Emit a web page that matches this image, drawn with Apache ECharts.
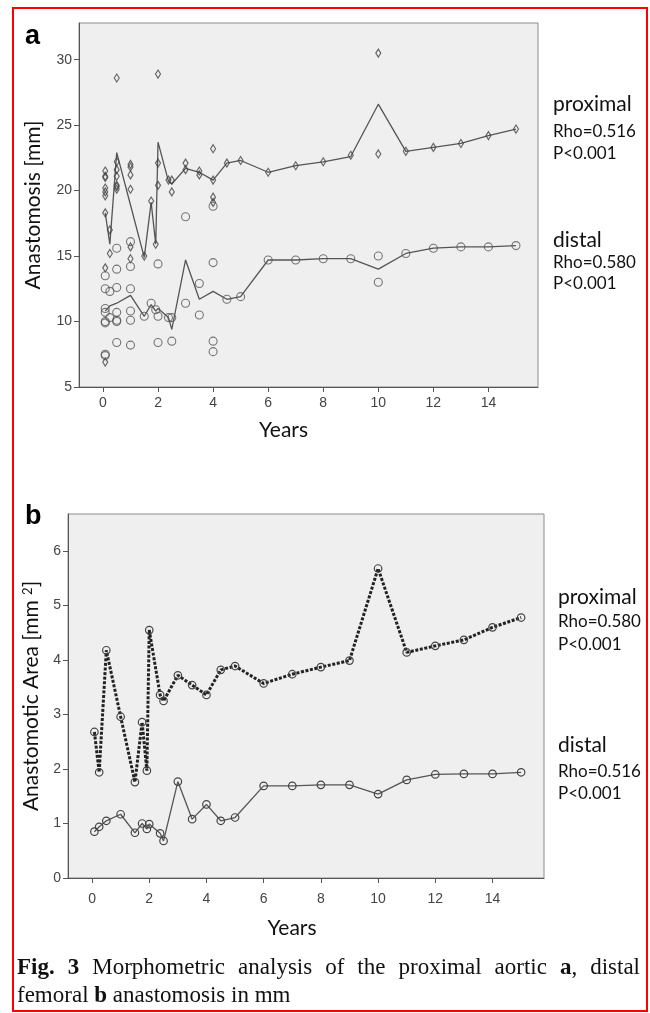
<!DOCTYPE html>
<html>
<head>
<meta charset="utf-8">
<script src="https://cdn.jsdelivr.net/npm/echarts@6/dist/echarts.min.js"></script>
<style>
  html, body { margin: 0; padding: 0; background: #fff; }
  #chart { width: 650px; height: 1013px; }
</style>
</head>
<body>
<div id="chart"></div>
<script>
/* Fig. 3 — morphometric analysis, panels a and b */
var years = [0.083, 0.25, 0.5, 1, 1.5, 1.75, 1.917, 2, 2.38, 2.5, 3, 3.5, 4, 4.5, 5, 6, 7, 8, 9, 10, 11, 12, 13, 14, 15];

// panel a: mean lines
var proximalMeanA = [18.3, 15.9, 22.9, 18.9, 14.9, 19.1, 15.9, 23.7, 20.7, 20.5, 21.7, 21.4, 20.8, 22.1, 22.3, 21.4, 21.9, 22.2, 22.6, 26.6, 23.0, 23.3, 23.6, 24.2, 24.7];
var distalMeanA = [10.8, 11.2, 11.4, 12.0, 10.4, 11.3, 10.8, 11.0, 10.3, 9.4, 14.7, 11.7, 12.3, 11.7, 11.9, 14.7, 14.7, 14.8, 14.8, 14.0, 15.2, 15.6, 15.7, 15.7, 15.8];

// panel a: individual measurements [year, mm]
var proximalPointsA = [
  [0.083, 21.5], [0.083, 21.1], [0.083, 21.0], [0.083, 20.2], [0.083, 19.9], [0.083, 19.6], [0.083, 18.3], [0.083, 14.1], [0.083, 6.9],
  [0.25, 17.0], [0.25, 15.2],
  [0.5, 28.6], [0.5, 22.2], [0.5, 21.6], [0.5, 21.1], [0.5, 20.4], [0.5, 20.3], [0.5, 20.1],
  [1, 22.0], [1, 21.8], [1, 21.2], [1, 20.1], [1, 15.7], [1, 14.8],
  [1.5, 15.0], [1.75, 19.2], [1.917, 15.9],
  [2, 28.9], [2, 22.1], [2, 20.4],
  [2.38, 20.8], [2.5, 20.8], [2.5, 19.9],
  [3, 22.1], [3, 21.6], [3.5, 21.5], [3.5, 21.2],
  [4, 23.2], [4, 20.8], [4, 19.5], [4, 19.1],
  [4.5, 22.1], [5, 22.3], [6, 21.4], [7, 21.9], [8, 22.2], [9, 22.7],
  [10, 30.5], [10, 22.8], [11, 23.0], [12, 23.3], [13, 23.6], [14, 24.2], [15, 24.7]
];
var distalPointsA = [
  [0.083, 13.5], [0.083, 12.5], [0.083, 11.0], [0.083, 10.7], [0.083, 10.0], [0.083, 9.9], [0.083, 7.5], [0.083, 7.4],
  [0.25, 12.3], [0.25, 10.3],
  [0.5, 15.6], [0.5, 14.0], [0.5, 12.6], [0.5, 10.7], [0.5, 10.1], [0.5, 10.0], [0.5, 8.4],
  [1, 16.1], [1, 14.2], [1, 12.5], [1, 10.8], [1, 10.1], [1, 8.2],
  [1.5, 10.4], [1.75, 11.4], [1.917, 10.9],
  [2, 14.4], [2, 10.4], [2, 8.4],
  [2.38, 10.3], [2.5, 10.3], [2.5, 8.5],
  [3, 18.0], [3, 11.4], [3.5, 12.9], [3.5, 10.5],
  [4, 18.8], [4, 14.5], [4, 8.5], [4, 7.7],
  [4.5, 11.7], [5, 11.9], [6, 14.7], [7, 14.7], [8, 14.8], [9, 14.8],
  [10, 15.0], [10, 13.0], [11, 15.2], [12, 15.6], [13, 15.7], [14, 15.7], [15, 15.8]
];

// panel b: anastomotic area
var proximalB = [2.68, 1.94, 4.18, 2.96, 1.76, 2.86, 1.97, 4.55, 3.36, 3.25, 3.72, 3.54, 3.36, 3.82, 3.89, 3.57, 3.74, 3.87, 3.99, 5.68, 4.14, 4.26, 4.37, 4.60, 4.78];
var distalB = [0.85, 0.94, 1.05, 1.17, 0.83, 1.00, 0.90, 0.99, 0.82, 0.68, 1.77, 1.08, 1.35, 1.05, 1.11, 1.69, 1.69, 1.71, 1.71, 1.54, 1.80, 1.90, 1.91, 1.91, 1.94];

var xTicks = [0, 2, 4, 6, 8, 10, 12, 14];
var yTicksA = [5, 10, 15, 20, 25, 30];
var yTicksB = [0, 1, 2, 3, 4, 5, 6];

var statsA = [['proximal', 'Rho=0.516', 'P<0.001'], ['distal', 'Rho=0.580', 'P<0.001']];
var statsB = [['proximal', 'Rho=0.580', 'P<0.001'], ['distal', 'Rho=0.516', 'P<0.001']];

var captionLine1 = [[['Fig.', true]], [['3', true]], [['Morphometric', false]], [['analysis', false]], [['of', false]],
  [['the', false]], [['proximal', false]], [['aortic', false]], [['a', true], [',', false]], [['distal', false]]];
var captionLine2 = [[['femoral', false]], [['b', true]], [['anastomosis', false]], [['in', false]], [['mm', false]]];

(function () {
  'use strict';
  var chart = echarts.init(document.getElementById('chart'), null, { renderer: 'canvas' });

  var tickFont = '"Liberation Sans Narrow", "Arial Narrow", "Liberation Sans", sans-serif';
  var titleFont = 'Lato, "Noto Sans", sans-serif';
  var serif = '"Liberation Serif", "DejaVu Serif", serif';

  function pairs(xs, ys) {
    return xs.map(function (x, i) { return [x, ys[i]]; });
  }

  function xAxis(grid, min, gap, margin, shift) {
    return {
      gridIndex: grid, type: 'value', min: min, max: 15.8,
      splitLine: { show: false },
      axisLine: { onZero: false, lineStyle: { color: '#555', width: 1 } },
      axisTick: { customValues: xTicks, length: 5, lineStyle: { color: '#555' } },
      axisLabel: { customValues: xTicks, margin: margin, fontSize: 14, color: '#444', fontFamily: tickFont },
      name: 'Years', nameLocation: 'middle', nameGap: gap,
      nameTextStyle: { fontSize: 21, fontFamily: titleFont, color: '#111', padding: [0, shift, 0, 0] }
    };
  }

  function yAxis(grid, min, max, ticks, name, gap, rich) {
    return {
      gridIndex: grid, type: 'value', min: min, max: max,
      splitLine: { show: false },
      axisLine: { onZero: false, lineStyle: { color: '#555', width: 1 } },
      axisTick: { customValues: ticks, length: 5, lineStyle: { color: '#555' } },
      axisLabel: { customValues: ticks, margin: 7, fontSize: 14, color: '#444', fontFamily: tickFont },
      name: name, nameLocation: 'middle', nameGap: gap, nameRotate: 90,
      nameTextStyle: { fontSize: 21, fontFamily: titleFont, color: '#111', rich: rich }
    };
  }

  var hollow = { color: 'rgba(0,0,0,0)', borderColor: '#555', borderWidth: 1.1 };

  var graphics = [{
    type: 'rect', shape: { x: 13, y: 8, width: 634, height: 1003 },
    style: { fill: 'none', stroke: '#ff0000', lineWidth: 2 }, z: 100
  }, {
    type: 'text', x: 25, y: 37,
    style: { text: 'a', font: 'bold 27px "Liberation Sans", sans-serif', fill: '#000', verticalAlign: 'middle', textVerticalAlign: 'middle' }
  }, {
    type: 'text', x: 25, y: 517,
    style: { text: 'b', font: 'bold 27px "Liberation Sans", sans-serif', fill: '#000', verticalAlign: 'middle', textVerticalAlign: 'middle' }
  }];

  // right-hand stats text
  function addStats(stats, x, ys) {
    stats.forEach(function (s, k) {
      s.forEach(function (line, j) {
        graphics.push({
          type: 'text', x: x, y: ys[k][j],
          style: {
            text: line, fill: '#111', verticalAlign: 'middle', textVerticalAlign: 'middle',
            font: (j === 0 ? '21px ' : '17px ') + titleFont
          }
        });
      });
    });
  }
  addStats(statsA, 553, [[104, 132, 154], [240, 263, 284]]);
  addStats(statsB, 558, [[597, 622, 645], [745, 772, 794]]);

  // caption, first line justified across the frame
  var ctx = document.createElement('canvas').getContext('2d');
  function fontOf(bold) { return (bold ? 'bold ' : '') + '23px ' + serif; }
  function widthOf(seg) { ctx.font = fontOf(seg[1]); return ctx.measureText(seg[0]).width; }
  function wordWidth(word) { return word.reduce(function (s, seg) { return s + widthOf(seg); }, 0); }

  function addCaptionLine(words, y, justify) {
    var left = 17, right = 640;
    var total = words.reduce(function (s, w) { return s + wordWidth(w); }, 0);
    ctx.font = fontOf(false);
    var gap = justify ? (right - left - total) / (words.length - 1) : ctx.measureText(' ').width;
    var x = left;
    words.forEach(function (w) {
      w.forEach(function (seg) {
        graphics.push({
          type: 'text', x: x, y: y,
          style: { text: seg[0], font: fontOf(seg[1]), fill: '#111', verticalAlign: 'middle', textVerticalAlign: 'middle' }
        });
        x += widthOf(seg);
      });
      x += gap;
    });
  }
  addCaptionLine(captionLine1, 968, true);
  addCaptionLine(captionLine2, 996, false);

  var option = {
    animation: false,
    backgroundColor: '#fff',
    grid: [
      { left: 79, top: 23, width: 459, height: 364, show: true, backgroundColor: '#efefef', borderColor: '#8c8c8c', borderWidth: 1 },
      { left: 68, top: 514, width: 476, height: 364, show: true, backgroundColor: '#efefef', borderColor: '#8c8c8c', borderWidth: 1 }
    ],
    xAxis: [xAxis(0, -0.87, 33, 9, 50), xAxis(1, -0.84, 40, 14, 28)],
    yAxis: [
      yAxis(0, 5, 32.8, yTicksA, 'Anastomosis [mm]', 35),
      yAxis(1, 0, 6.68, yTicksB, 'Anastomotic Area [mm {sup|2}]', 26,
        { sup: { fontSize: 13, fontFamily: titleFont, color: '#111', verticalAlign: 'top', padding: [0, 0, 8, 0] } })
    ],
    series: [
      {
        name: 'proximal mean', type: 'line', xAxisIndex: 0, yAxisIndex: 0,
        data: pairs(years, proximalMeanA), showSymbol: false,
        lineStyle: { color: '#555', width: 1.3 }, z: 2
      },
      {
        name: 'distal mean', type: 'line', xAxisIndex: 0, yAxisIndex: 0,
        data: pairs(years, distalMeanA), showSymbol: false,
        lineStyle: { color: '#555', width: 1.3 }, z: 2
      },
      {
        name: 'proximal', type: 'scatter', xAxisIndex: 0, yAxisIndex: 0,
        data: proximalPointsA, symbol: 'diamond', symbolSize: [5, 8],
        itemStyle: { color: 'rgba(0,0,0,0)', borderColor: '#444', borderWidth: 1.2 }, z: 3
      },
      {
        name: 'distal', type: 'scatter', xAxisIndex: 0, yAxisIndex: 0,
        data: distalPointsA, symbol: 'circle', symbolSize: 8,
        itemStyle: hollow, z: 3
      },
      {
        name: 'proximal area', type: 'line', xAxisIndex: 1, yAxisIndex: 1,
        data: pairs(years, proximalB), symbol: 'circle', symbolSize: 7.5, showSymbol: true,
        lineStyle: { color: '#222', width: 3, type: [3, 1.6] },
        itemStyle: { color: 'rgba(0,0,0,0)', borderColor: '#444', borderWidth: 1.2 }
      },
      {
        name: 'distal area', type: 'line', xAxisIndex: 1, yAxisIndex: 1,
        data: pairs(years, distalB), symbol: 'circle', symbolSize: 7.5, showSymbol: true,
        lineStyle: { color: '#555', width: 1.3 },
        itemStyle: { color: 'rgba(0,0,0,0)', borderColor: '#444', borderWidth: 1.2 }
      }
    ],
    graphic: graphics
  };

  chart.setOption(option);
  window.addEventListener('resize', function () { chart.resize(); });
})();
</script>
</body>
</html>
